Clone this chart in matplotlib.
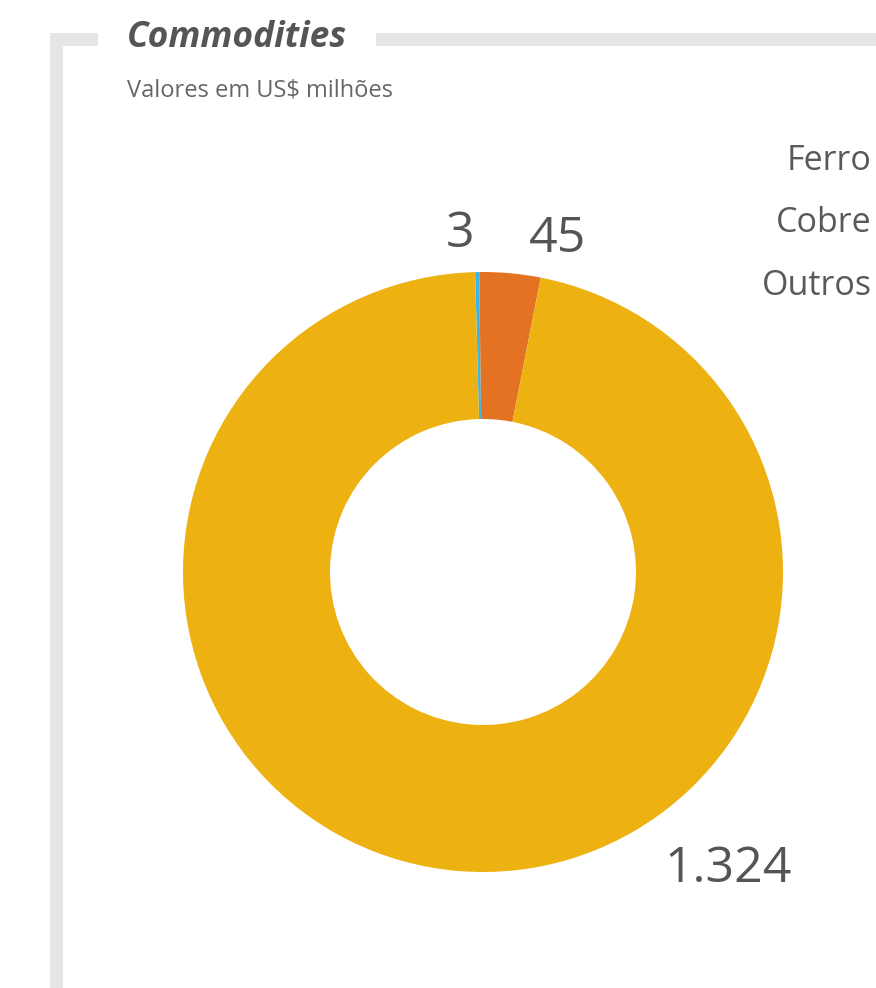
import matplotlib
matplotlib.use("Agg")
import matplotlib.pyplot as plt
from matplotlib.patches import Rectangle

plt.rcParams['font.family'] = ['Open Sans', 'DejaVu Sans']

# data (clockwise from the top)
categories = ['Outros', 'Cobre', 'Ferro']
values = [3, 45, 1324]
value_labels = ['3', '45', '1.324']
colors = ['#3db5e6', '#e37222', '#edb112']

legend_order = ['Ferro', 'Cobre', 'Outros']

W, H = 876, 988
fig = plt.figure(figsize=(W / 100, H / 100), dpi=100)

# frame around the card
frame_col = '#e5e6e8'
for x0, y0, w, h in [(50, 33, 13, 955), (50, 33, 48, 13), (376, 33, 500, 13)]:
    fig.add_artist(Rectangle((x0 / W, 1 - (y0 + h) / H), w / W, h / H,
                             transform=fig.transFigure, color=frame_col, lw=0))

fig.text(127 / W, 1 - 38 / H, 'Commodities', fontsize=25.5, fontweight='bold',
         fontstyle='italic', color='#555555', va='center', ha='left')
fig.text(127 / W, 1 - 90 / H, 'Valores em US$ milhões', fontsize=17,
         color='#666666', va='center', ha='left')

# donut
cx, cy, r = 483, 572, 300
ax = fig.add_axes([(cx - r) / W, 1 - (cy + r) / H, 2 * r / W, 2 * r / H])
ax.pie(values, colors=colors, startangle=91.5, counterclock=False, radius=1,
       wedgeprops=dict(width=0.49, linewidth=0))
ax.set_xlim(-1, 1)
ax.set_ylim(-1, 1)
ax.axis('off')

# value labels (outside the ring)
label_pos = [(-0.077, 1.125), (0.247, 1.11), (0.817, -0.99)]
for txt, (lx, ly) in zip(value_labels, label_pos):
    ax.text(lx, ly, txt, fontsize=36, color='#555555', ha='center', va='center',
            clip_on=False)

# legend (text only, right aligned)
for name, y in zip(legend_order, [161, 223, 286]):
    fig.text(872 / W, 1 - y / H, name, fontsize=24.5, color='#595959',
             ha='right', va='center')

fig.savefig('out.png', dpi=100)
